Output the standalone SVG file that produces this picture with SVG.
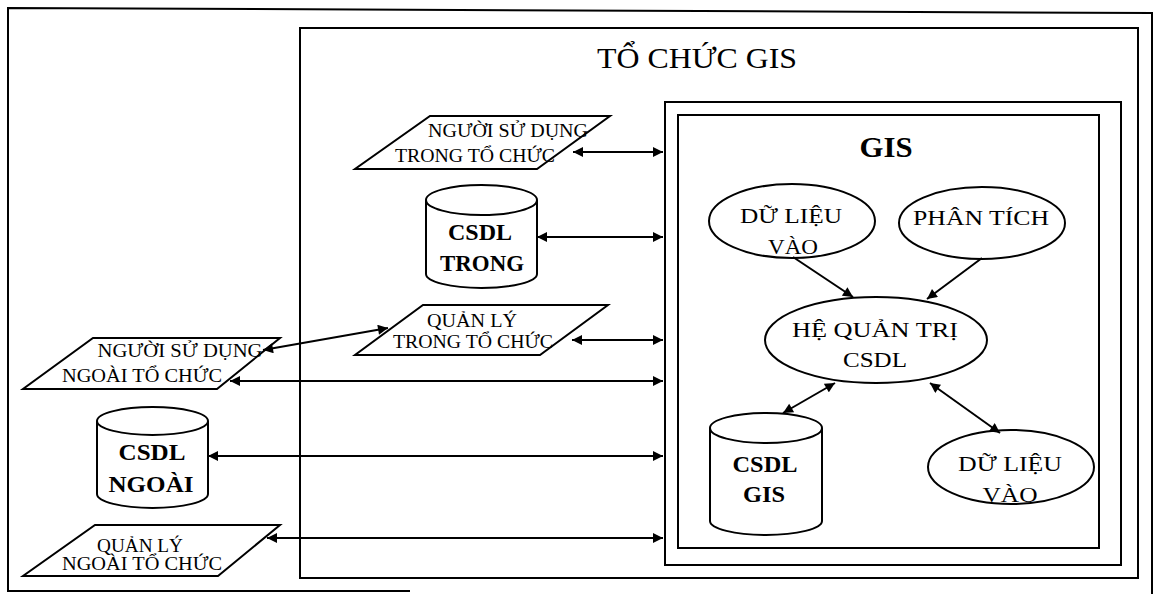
<svg xmlns="http://www.w3.org/2000/svg" width="1159" height="594" viewBox="0 0 1159 594">
<style>
.frame{fill:none;stroke:#000;stroke-width:2}
.shape{fill:#fff;stroke:#000;stroke-width:2}
.t{font-family:"Liberation Serif","Times New Roman",serif;fill:#000;text-anchor:middle}
.p{font-size:18px}
.c{font-size:24px;font-weight:bold}
.e{font-size:22px}
.conn line{stroke:#000;stroke-width:2;fill:none}
.dbl{marker-start:url(#ah);marker-end:url(#ah)}
.one{marker-end:url(#ah)}
</style>
<defs>
<marker id="ah" viewBox="0 0 10 10" refX="10" refY="5" markerWidth="11" markerHeight="10" markerUnits="userSpaceOnUse" orient="auto-start-reverse">
<path d="M0,0 L10,5 L0,10 z" fill="#000"/>
</marker>
</defs>
<rect width="1159" height="594" fill="#fff"/>
<path class="frame" d="M410,591 L8,591 L8,8 L1152,13 L1152,594"/>

<g id="to-chuc-gis">
<rect class="frame" x="300" y="28" width="838" height="550"/>
<text class="t" x="697" y="68" font-size="30" textLength="200" lengthAdjust="spacingAndGlyphs">TỔ CHỨC GIS</text>
</g>

<g id="gis">
<rect class="frame" x="665" y="102" width="456" height="463"/>
<rect class="frame" x="678" y="115" width="421" height="433"/>
<text class="t" x="886" y="157" font-size="29" font-weight="bold" textLength="53" lengthAdjust="spacingAndGlyphs">GIS</text>
</g>

<g id="nguoi-su-dung-trong">
<polygon class="shape" points="430,116 610,116 537,169 355,169"/>
<text class="t p" x="508" y="137" textLength="160" lengthAdjust="spacingAndGlyphs">NGƯỜI SỬ DỤNG</text>
<text class="t p" x="475" y="162" textLength="160" lengthAdjust="spacingAndGlyphs">TRONG TỔ CHỨC</text>
</g>

<g id="csdl-trong">
<path class="shape" d="M426,200 L426,274 A55.5,14 0 0 0 537,274 L537,200"/>
<ellipse class="shape" cx="481.5" cy="200" rx="55.5" ry="15"/>
<text class="t c" x="480" y="240" textLength="64" lengthAdjust="spacingAndGlyphs">CSDL</text>
<text class="t c" x="482" y="271" textLength="84" lengthAdjust="spacingAndGlyphs">TRONG</text>
</g>

<g id="quan-ly-trong">
<polygon class="shape" points="423,305 608,305 540,355 355,355"/>
<text class="t p" x="472" y="327" textLength="90" lengthAdjust="spacingAndGlyphs">QUẢN LÝ</text>
<text class="t p" x="473" y="348" textLength="160" lengthAdjust="spacingAndGlyphs">TRONG TỔ CHỨC</text>
</g>

<g id="nguoi-su-dung-ngoai">
<polygon class="shape" points="93,338 280,338 217,389 23,389"/>
<text class="t p" x="180" y="357" textLength="165" lengthAdjust="spacingAndGlyphs">NGƯỜI SỬ DỤNG</text>
<text class="t p" x="142" y="382" textLength="160" lengthAdjust="spacingAndGlyphs">NGOÀI TỔ CHỨC</text>
</g>

<g id="csdl-ngoai">
<path class="shape" d="M97,421 L97,494 A55.5,14 0 0 0 208,494 L208,421"/>
<ellipse class="shape" cx="152.5" cy="421" rx="55.5" ry="14"/>
<text class="t c" x="152" y="460" textLength="67" lengthAdjust="spacingAndGlyphs">CSDL</text>
<text class="t c" x="151" y="492" textLength="85" lengthAdjust="spacingAndGlyphs">NGOÀI</text>
</g>

<g id="quan-ly-ngoai">
<polygon class="shape" points="95,525 280,525 218,576 23,576"/>
<text class="t p" x="140" y="552" textLength="86" lengthAdjust="spacingAndGlyphs">QUẢN LÝ</text>
<text class="t p" x="142" y="570" textLength="160" lengthAdjust="spacingAndGlyphs">NGOÀI TỔ CHỨC</text>
</g>

<g id="du-lieu-vao-1">
<ellipse class="shape" cx="792" cy="221" rx="83" ry="37"/>
<text class="t e" x="791" y="223" textLength="102" lengthAdjust="spacingAndGlyphs">DỮ LIỆU</text>
<text class="t e" x="793" y="254" textLength="50" lengthAdjust="spacingAndGlyphs">VÀO</text>
</g>

<g id="phan-tich">
<ellipse class="shape" cx="982" cy="223" rx="83" ry="36"/>
<text class="t e" x="981" y="225" textLength="136" lengthAdjust="spacingAndGlyphs">PHÂN TÍCH</text>
</g>

<g id="he-quan-tri">
<ellipse class="shape" cx="876" cy="340" rx="111" ry="43"/>
<text class="t e" x="875" y="337" textLength="166" lengthAdjust="spacingAndGlyphs">HỆ QUẢN TRỊ</text>
<text class="t e" x="875" y="367" textLength="64" lengthAdjust="spacingAndGlyphs">CSDL</text>
</g>

<g id="csdl-gis">
<path class="shape" d="M710,428 L710,521 A56,14 0 0 0 822,521 L822,428"/>
<ellipse class="shape" cx="766" cy="428" rx="56" ry="15"/>
<text class="t c" x="765" y="472" textLength="65" lengthAdjust="spacingAndGlyphs">CSDL</text>
<text class="t c" x="764" y="502" textLength="42" lengthAdjust="spacingAndGlyphs">GIS</text>
</g>

<g id="du-lieu-vao-2">
<ellipse class="shape" cx="1011" cy="467" rx="83" ry="37"/>
<text class="t e" x="1010" y="471" textLength="104" lengthAdjust="spacingAndGlyphs">DỮ LIỆU</text>
<text class="t e" x="1010" y="502" textLength="55" lengthAdjust="spacingAndGlyphs">VÀO</text>
</g>

<g id="connectors" class="conn">
<line class="dbl" x1="573" y1="152" x2="663" y2="152"/>
<line class="dbl" x1="537" y1="237" x2="663" y2="237"/>
<line class="dbl" x1="572" y1="340" x2="663" y2="340"/>
<line class="dbl" x1="263" y1="350" x2="388" y2="328"/>
<line class="dbl" x1="230" y1="381" x2="663" y2="381"/>
<line class="dbl" x1="208" y1="456" x2="663" y2="456"/>
<line class="dbl" x1="267" y1="538" x2="663" y2="538"/>
<line class="one" x1="793" y1="257" x2="853" y2="297"/>
<line class="one" x1="982" y1="258" x2="927" y2="299"/>
<line class="dbl" x1="835" y1="383" x2="783" y2="413"/>
<line class="dbl" x1="930" y1="383" x2="1000" y2="433"/>
</g>
</svg>
